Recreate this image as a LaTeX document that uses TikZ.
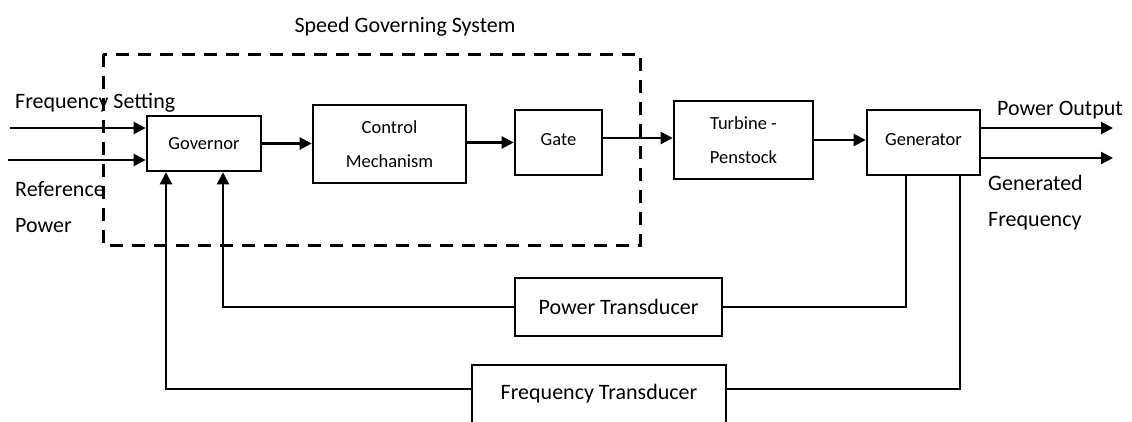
\documentclass[tikz,border=0pt]{standalone}
\usepackage{fontspec}
\setmainfont{Carlito}
\usetikzlibrary{arrows.meta}
\begin{document}
\begin{tikzpicture}[x=1pt,y=-1pt,
  blk/.style={draw,line width=2.6pt,inner sep=0pt,font=\fontsize{18.5}{34}\selectfont,align=center},
  tbox/.style={draw,line width=2.4pt,inner sep=0pt,font=\fontsize{22}{26}\selectfont},
  arr/.style={line width=2.2pt,-{Triangle[length=12pt,width=12pt]}},
  ln/.style={line width=2.2pt},
  lab/.style={font=\fontsize{22}{35.5}\selectfont,inner sep=0pt,align=left,anchor=base west},
  group/.style={line width=3pt,dash pattern=on 13pt off 9pt}]
\useasboundingbox (0,0) rectangle (1132,421);
\clip (0,0) rectangle (1132,421);

% dashed group
\draw[group] (103,54) rectangle (640,245);
\node[lab,anchor=base] (sgs) at (405,32) {Speed Governing System};

% blocks
\node[blk,minimum width=114pt,minimum height=55pt] (gov) at (204,143.5) {Governor};
\node[blk,minimum width=153pt,minimum height=78pt] (ctl) at (389.5,144) {Control\\Mechanism};
\node[blk,minimum width=87pt,minimum height=65pt] (gate) at (558.5,142.5) {\raisebox{7pt}{Gate}};
\node[blk,minimum width=139pt,minimum height=78pt] (turb) at (743.5,140) {Turbine -\\Penstock};
\node[blk,minimum width=113pt,minimum height=65pt] (gen) at (923.5,142.5) {\raisebox{7pt}{Generator}};
\node[tbox,minimum width=207pt,minimum height=58pt] (pt) at (618.5,307) {Power Transducer};
\node[tbox,minimum width=254pt,minimum height=60pt] (ft) at (599,395) {\raisebox{6pt}{Frequency Transducer}};

% labels
\node[lab] (fs) at (15,108) {Frequency Setting};
\node[lab] (rp) at (15,232) {Reference\\Power};
\node[lab] (po) at (997,115) {Power Output};
\node[lab] (gf) at (988,226) {Generated\\Frequency};

% inputs
\coordinate (in1) at (10,128);
\coordinate (in2) at (8,160);
\draw[arr] (in1) -- (in1 -| gov.west);
\draw[arr] (in2) -- (in2 -| gov.west);

% forward path
\draw[arr] (gov.east) -- (gov.east -| ctl.west);
\draw[arr] (gate.west -| ctl.east) -- (gate.west);
\draw[arr] ([yshift=4.5pt]gate.east) -- ([yshift=4.5pt]gate.east -| turb.west);
\draw[arr] (turb.east) -- (turb.east -| gen.west);

% outputs
\coordinate (out1) at (1113,128);
\coordinate (out2) at (1113,158);
\draw[arr] (out1 -| gen.east) -- (out1);
\draw[arr] (out2 -| gen.east) -- (out2);

% feedback: power
\coordinate (pdn) at (906,0);
\coordinate (pup) at (223,0);
\draw[ln] (gen.south -| pdn) |- (pt.east);
\draw[arr] (pt.west) -| (gov.south -| pup);

% feedback: frequency
\coordinate (fdn) at (960,0);
\coordinate (fup) at (166,0);
\draw[ln] (gen.south -| fdn) |- ([yshift=6pt]ft.east);
\draw[arr] ([yshift=6pt]ft.west) -| (gov.south -| fup);
\end{tikzpicture}
\end{document}
